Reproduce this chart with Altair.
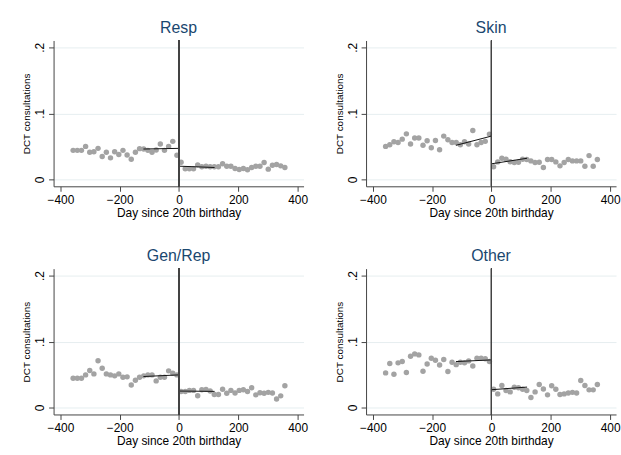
import altair as alt
import pandas as pd

days = [-357, -343, -329, -315, -301, -287, -273, -259, -245, -231, -217, -203, -189,
        -175, -161, -147, -133, -119, -105, -91, -77, -63, -49, -35, -21, -7,
        7, 21, 35, 49, 63, 77, 91, 105, 119, 133, 147, 161, 175, 189, 203, 217,
        231, 245, 259, 273, 287, 301, 315, 329, 343, 357]

resp = [0.044, 0.044, 0.044, 0.050, 0.041, 0.042, 0.047, 0.0346, 0.041, 0.0326, 0.042, 0.0376, 0.044,
        0.037, 0.0306, 0.041, 0.0466, 0.046, 0.044, 0.041, 0.0445, 0.0536, 0.044, 0.050, 0.0576, 0.0366,
        0.026, 0.016, 0.016, 0.016, 0.022, 0.019, 0.020, 0.019, 0.019, 0.019, 0.0236, 0.020, 0.020,
        0.0165, 0.015, 0.0165, 0.0145, 0.018, 0.020, 0.020, 0.0255, 0.0155, 0.0215, 0.0225, 0.0205, 0.018]

skin = [0.050, 0.0526, 0.057, 0.056, 0.061, 0.069, 0.0536, 0.0626, 0.0626, 0.0516, 0.0586, 0.048, 0.059,
        0.045, 0.0656, 0.060, 0.056, 0.056, 0.0526, 0.057, 0.0536, 0.074, 0.0526, 0.056, 0.0576, 0.0686,
        0.019, 0.0265, 0.032, 0.0306, 0.0266, 0.0255, 0.026, 0.0306, 0.030, 0.028, 0.0255, 0.026, 0.018,
        0.030, 0.030, 0.0265, 0.0205, 0.0255, 0.030, 0.028, 0.028, 0.028, 0.020, 0.036, 0.020, 0.030]

genrep = [0.0444, 0.0444, 0.0444, 0.0495, 0.056, 0.051, 0.071, 0.0596, 0.051, 0.0495, 0.048, 0.051, 0.046,
          0.0465, 0.0343, 0.0414, 0.046, 0.048, 0.0495, 0.0495, 0.0404, 0.046, 0.046, 0.0556, 0.052, 0.0495,
          0.0242, 0.0242, 0.026, 0.026, 0.018, 0.027, 0.0275, 0.025, 0.0197, 0.0197, 0.0278, 0.0217, 0.026,
          0.022, 0.026, 0.027, 0.0242, 0.030, 0.0192, 0.0225, 0.0217, 0.023, 0.022, 0.013, 0.0177, 0.033]

other = [0.0525, 0.0667, 0.0505, 0.0677, 0.0697, 0.053, 0.0778, 0.0813, 0.0798, 0.055, 0.066, 0.0747, 0.0717,
         0.0646, 0.0727, 0.0545, 0.0687, 0.065, 0.0687, 0.068, 0.0707, 0.063, 0.0747, 0.0747, 0.074, 0.0697,
         0.0278, 0.0207, 0.0333, 0.0258, 0.0237, 0.0308, 0.030, 0.0278, 0.0258, 0.0152, 0.0237, 0.0348, 0.028,
         0.0192, 0.033, 0.0278, 0.0197, 0.0207, 0.022, 0.023, 0.022, 0.041, 0.0333, 0.0268, 0.0268, 0.0348]

# fitted local-linear segments: x endpoints and y endpoints (left seg, right seg)
fit_x = [-120, 0, 0, 120]
fit_seg = ["pre", "pre", "post", "post"]
fit_resp = [0.046, 0.047, 0.020, 0.018]
fit_skin = [0.0516, 0.0656, 0.0236, 0.032]
fit_genrep = [0.047, 0.0495, 0.025, 0.0245]
fit_other = [0.0697, 0.0722, 0.027, 0.031]

x_ticks = [-400, -200, 0, 200, 400]
y_ticks = [0, 0.1, 0.2]

FONT = "Liberation Sans"
W, H = 252, 147
X_DOM = [-423, 420]
Y_DOM = [-0.0105, 0.2105]


def panel(name, vals, fits):
    pts = pd.DataFrame({"day": days, "val": vals})
    fit = pd.DataFrame({"day": fit_x, "val": fits, "seg": fit_seg})
    xs = alt.Scale(domain=X_DOM, nice=False, zero=False)
    ys = alt.Scale(domain=Y_DOM, nice=False, zero=False)
    xax = alt.Axis(values=x_ticks, title="Day since 20th birthday", grid=False)
    yax = alt.Axis(values=y_ticks, title="DCT consultations", grid=True,
                   labelExpr="datum.value == 0 ? '0' : replace(format(datum.value, '.1f'), '0.', '.')")
    points = alt.Chart(pts).mark_circle(size=30, color="#A3A3A3", opacity=1).encode(
        x=alt.X("day:Q", scale=xs, axis=xax),
        y=alt.Y("val:Q", scale=ys, axis=yax),
    )
    lines = alt.Chart(fit).mark_line(color="#111111", strokeWidth=1).encode(
        x="day:Q", y="val:Q", detail="seg:N"
    )
    rule = alt.Chart(pts).mark_rule(color="#444444", strokeWidth=1).encode(
        x=alt.datum(0)
    )
    return alt.layer(points, lines, rule).properties(
        width=W, height=H,
        title=alt.TitleParams(text=name, fontSize=16, font=FONT, fontWeight="normal",
                              color="#1a476f", anchor="middle", offset=4),
    )


top = alt.hconcat(panel("Resp", resp, fit_resp), panel("Skin", skin, fit_skin), spacing=26)
bottom = alt.hconcat(panel("Gen/Rep", genrep, fit_genrep), panel("Other", other, fit_other), spacing=26)

chart = alt.vconcat(top, bottom, spacing=29).properties(
    padding={"left": 22, "top": 18, "right": 0, "bottom": 0},
    background="white",
).configure_view(stroke=None).configure_axis(
    labelFont=FONT, titleFont=FONT, labelFontSize=12, labelColor="black",
    titleColor="black", titleFontWeight="normal", domainColor="#444444",
    tickColor="#444444", tickSize=5, gridColor="#E6EEF0", gridWidth=1,
).configure_axisX(
    labelPadding=3.5, titleFontSize=12, titlePadding=2,
).configure_axisY(
    labelAngle=270, labelAlign="center", labelBaseline="alphabetic", labelPadding=5,
    titleFontSize=10, titlePadding=2,
)

chart.save("out.html", embed_options={"renderer": "svg", "actions": False})
